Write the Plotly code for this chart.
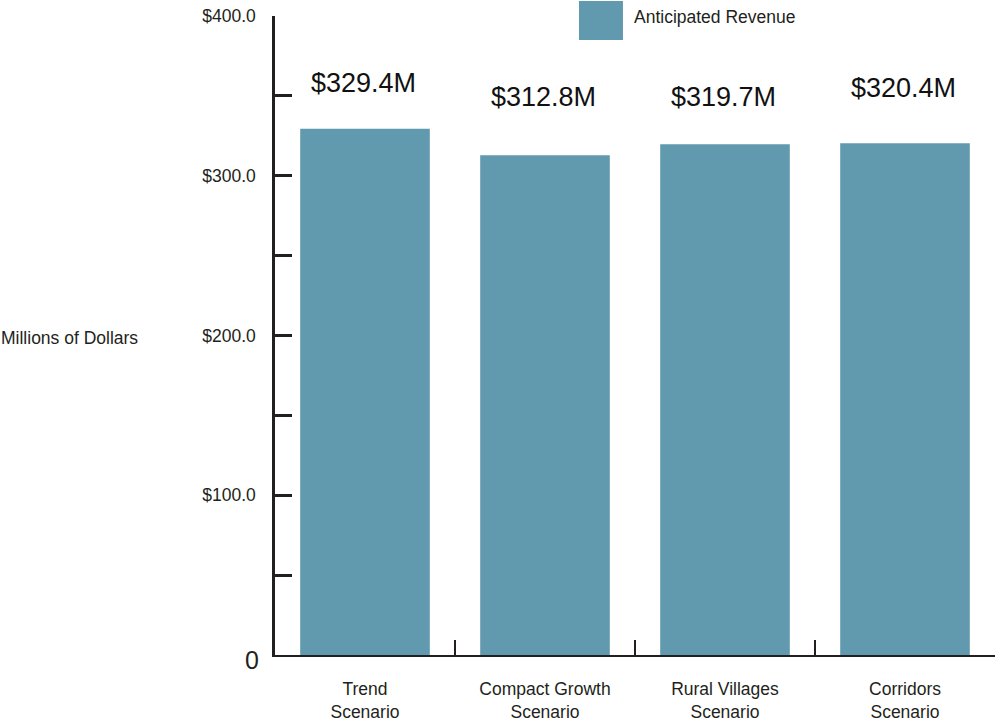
import plotly.graph_objects as go

# Revenue by growth scenario (millions of dollars)
scenarios = ["Trend<br>Scenario", "Compact Growth<br>Scenario",
             "Rural Villages<br>Scenario", "Corridors<br>Scenario"]
revenue = [329.4, 312.8, 319.7, 320.4]
value_labels = ["$329.4M", "$312.8M", "$319.7M", "$320.4M"]
series_name = "Anticipated Revenue"

y_tick_values = [0, 50, 100, 150, 200, 250, 300, 350, 400]
y_tick_text = ["", "", "$100.0", "", "$200.0", "", "$300.0", "", "$400.0"]

# vertical gap (px) between each bar top and its value label
label_gap = [46, 58, 47, 55]

BAR = "#619aae"
INK = "#231f20"
FONT = "Liberation Sans, Arial, sans-serif"

fig = go.Figure(go.Bar(
    x=scenarios, y=revenue, name=series_name,
    marker=dict(color=BAR, line=dict(width=0)),
    width=0.72, showlegend=False,
))

for cat, val, txt, gap in zip(scenarios, revenue, value_labels, label_gap):
    fig.add_annotation(x=cat, y=val, text=txt, showarrow=False,
                       yanchor="middle", yshift=gap, xshift=-2,
                       font=dict(family=FONT, size=27, color="#111111"))

# zero label on the value axis
fig.add_annotation(xref="paper", yref="y", x=-0.032, y=0, text="0",
                   showarrow=False, xanchor="center", yanchor="middle",
                   yshift=-5, font=dict(family=FONT, size=25, color=INK))

# axis title placed at the far left
fig.add_annotation(xref="paper", yref="paper", x=-276 / 720, y=0.496,
                   text="Millions of Dollars", showarrow=False,
                   xanchor="left", yanchor="middle",
                   font=dict(family=FONT, size=17.5, color=INK))

# legend swatch and label
fig.add_shape(type="rect", xref="paper", yref="paper",
              x0=0.4222, x1=0.4833, y0=0.9624, y1=1.0235,
              fillcolor=BAR, line=dict(width=0))
fig.add_annotation(xref="paper", yref="paper", x=0.4958, y=0.9984,
                   text=series_name, showarrow=False,
                   xanchor="left", yanchor="middle",
                   font=dict(family=FONT, size=17.5, color=INK))

fig.update_layout(
    width=997, height=726,
    margin=dict(l=275, r=2, t=16, b=71),
    paper_bgcolor="white", plot_bgcolor="white",
    bargap=0.28,
    font=dict(family=FONT, color=INK),
)

fig.update_xaxes(
    type="category",
    showline=True, linecolor=INK, linewidth=2,
    ticks="inside", tickson="boundaries", ticklen=15, tickwidth=2, tickcolor=INK,
    tickfont=dict(family=FONT, size=17.5, color=INK),
    ticklabelstandoff=17,
    showgrid=False, zeroline=False,
)

fig.update_yaxes(
    range=[0, 400],
    showline=True, linecolor=INK, linewidth=2.5,
    ticks="inside", ticklen=17, tickwidth=2.5, tickcolor=INK,
    tickvals=y_tick_values, ticktext=y_tick_text,
    tickfont=dict(family=FONT, size=17.5, color=INK),
    ticklabelstandoff=13,
    showgrid=False, zeroline=False,
)

fig.write_html("out.html")
